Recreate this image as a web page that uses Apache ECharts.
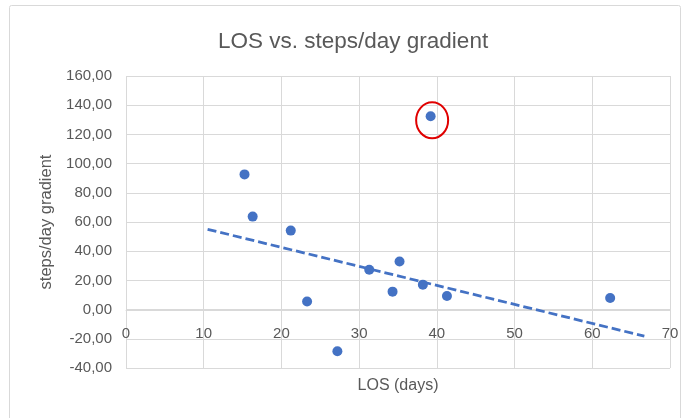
<!DOCTYPE html>
<html>
<head>
<meta charset="utf-8">
<script src="https://cdn.jsdelivr.net/npm/echarts@6/dist/echarts.min.js"></script>
<style>
  html, body { margin: 0; padding: 0; background: #fff; }
  #chart { width: 689px; height: 418px; }
</style>
</head>
<body>
<div id="chart"></div>
<script>
// LOS (days) vs steps/day gradient
var losDays = [15.25, 16.3, 21.2, 23.3, 27.2, 31.3, 34.3, 35.2, 38.2, 39.2, 41.3, 62.3];
var gradient = [92.6, 63.7, 54.1, 5.5, -28.5, 27.3, 12.3, 33.0, 17.1, 132.4, 9.3, 8.0];
// linear trendline ends
var trendX = [10.5, 66.7];
var trendY = [55.0, -18.2];
// circled outlier
var outlier = [39.2, 132.4];

var chart = echarts.init(document.getElementById('chart'));
var textColor = '#595959';
var gridColor = '#d9d9d9';
var blue = '#4472c4';
var font = 'Liberation Sans';

var points = [];
for (var i = 0; i < losDays.length; i++) {
    points.push([losDays[i], gradient[i]]);
}
var trend = [];
for (var j = 0; j < trendX.length; j++) {
    trend.push([trendX[j], trendY[j]]);
}

var option = {
    animation: false,
    backgroundColor: '#fff',
    textStyle: { fontFamily: font },
    title: {
        text: 'LOS vs. steps/day gradient',
        left: 213,
        top: 25,
        textStyle: { color: textColor, fontSize: 22.5, fontWeight: 'normal', fontFamily: font }
    },
    graphic: [{
        type: 'rect',
        shape: { x: 9.5, y: 5.5, width: 671, height: 440, r: 2 },
        style: { fill: 'none', stroke: gridColor, lineWidth: 1 },
        silent: true
    }],
    grid: { left: 126, right: 19, top: 76, bottom: 50, outerBoundsMode: 'none', containLabel: false },
    xAxis: {
        type: 'value',
        min: 0,
        max: 70,
        interval: 10,
        // axis sits on the y = 0 line (58px above the bottom edge)
        offset: -58,
        name: 'LOS (days)',
        nameLocation: 'middle',
        nameGap: 68,
        nameTextStyle: { color: textColor, fontSize: 16, fontFamily: font },
        axisLine: { show: true, onZero: false, lineStyle: { color: gridColor } },
        axisTick: { show: false },
        axisLabel: { color: textColor, fontSize: 15, margin: 16, fontFamily: font },
        splitLine: { show: true, lineStyle: { color: gridColor } }
    },
    yAxis: {
        type: 'value',
        min: -40,
        max: 160,
        interval: 20,
        name: 'steps/day gradient',
        nameLocation: 'middle',
        nameGap: 70,
        nameTextStyle: { color: textColor, fontSize: 16.5, fontFamily: font },
        axisLine: { show: false },
        axisTick: { show: false },
        axisLabel: {
            color: textColor, fontSize: 15, margin: 14, fontFamily: font,
            formatter: function (v) { return v.toFixed(2).replace('.', ','); }
        },
        splitLine: { show: true, lineStyle: { color: gridColor } }
    },
    series: [
        {
            type: 'line',
            data: trend,
            showSymbol: false,
            symbol: 'none',
            lineStyle: { color: blue, width: 2.75, type: [9, 4] },
            z: 2
        },
        {
            type: 'scatter',
            data: points,
            symbolSize: 10,
            itemStyle: { color: blue, opacity: 1 },
            z: 3
        },
        {
            type: 'custom',
            data: [outlier],
            z: 4,
            renderItem: function (params, api) {
                var p = api.coord([api.value(0), api.value(1)]);
                return {
                    type: 'ellipse',
                    shape: { cx: p[0] + 1.5, cy: p[1] + 4, rx: 16, ry: 18 },
                    style: { fill: 'none', stroke: '#e00000', lineWidth: 2 }
                };
            }
        }
    ]
};
chart.setOption(option);
</script>
</body>
</html>
